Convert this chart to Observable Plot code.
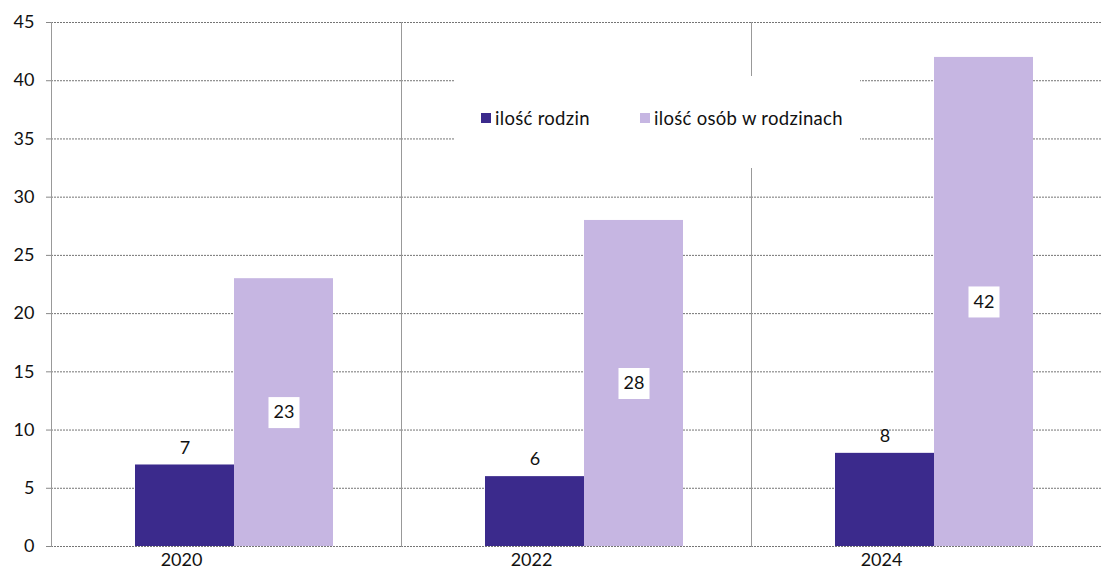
<!DOCTYPE html>
<html>
<head>
<meta charset="utf-8">
<script src="https://cdn.jsdelivr.net/npm/d3@7"></script>
<script src="https://cdn.jsdelivr.net/npm/@observablehq/plot@0.6"></script>
<style>
  html, body { margin: 0; padding: 0; background: white; }
  #wrap { position: relative; width: 1101px; height: 579px; font-family: Lato, "Open Sans", sans-serif; }
  #legend { position: absolute; left: 455px; top: 76px; width: 405px; height: 92px; background: white; }
  .item { position: absolute; top: 31px; display: flex; align-items: center; font-size: 18.5px; color: #111; white-space: nowrap; letter-spacing: 0.3px; }
  .sw { width: 10px; height: 10px; margin-right: 4px; }
</style>
</head>
<body>
<div id="wrap"></div>
<script>
const years = ["2020", "2022", "2024"];
const series = ["ilość rodzin", "ilość osób w rodzinach"];
const rodziny = [7, 6, 8];
const osoby = [23, 28, 42];
const colors = ["#3b2a8c", "#c6b6e2"];
const yTicks = [0, 5, 10, 15, 20, 25, 30, 35, 40, 45];

const rows = [];
years.forEach((yr, i) => {
  rows.push({year: yr, series: series[0], value: rodziny[i]});
  rows.push({year: yr, series: series[1], value: osoby[i]});
});
const darkRows = rows.filter(d => d.series === series[0]);
const lightRows = rows.filter(d => d.series === series[1]);

const chart = Plot.plot({
  width: 1101,
  height: 579,
  marginLeft: 50,
  marginRight: 0,
  marginTop: 22,
  marginBottom: 33,
  style: {fontFamily: "Lato, 'Open Sans', sans-serif", fontSize: "18px", color: "#111", background: "white"},
  fx: {domain: years, padding: 0, label: null, axis: null},
  x: {domain: series, paddingInner: 0, paddingOuter: 0.76, align: 0.55, axis: null},
  y: {domain: [0, 45], label: null, axis: null},
  color: {domain: series, range: colors},
  marks: [
    Plot.gridY(yTicks, {stroke: "#666", strokeOpacity: 0.9, strokeDasharray: "2,1"}),
    Plot.frame({anchor: "left", stroke: "#999", strokeDasharray: "2,1"}),
    Plot.axisY(yTicks, {tickSize: 5, tickPadding: 12, stroke: "#888", fontSize: 18, fill: "#111"}),
    Plot.axisFx({anchor: "bottom", tickSize: 0, tickPadding: 7, dx: -45, fontSize: 18, label: null, fill: "#111"}),
    Plot.barY(rows, {fx: "year", x: "series", y: "value", fill: "series"}),
    Plot.text(darkRows, {fx: "year", x: "series", y: "value", text: d => String(d.value), dy: -17, fontSize: 18, fill: "#111"}),
    Plot.dot(lightRows, {fx: "year", x: "series", y: d => d.value / 2, symbol: "square", r: 17.5, fill: "white"}),
    Plot.text(lightRows, {fx: "year", x: "series", y: d => d.value / 2, text: d => String(d.value), fontSize: 18, fill: "#111"})
  ]
});

const wrap = document.getElementById("wrap");
wrap.appendChild(chart);

const legend = document.createElement("div");
legend.id = "legend";
const lefts = [26, 185];
series.forEach((s, i) => {
  const it = document.createElement("div");
  it.className = "item";
  it.style.left = lefts[i] + "px";
  const sw = document.createElement("span");
  sw.className = "sw";
  sw.style.background = colors[i];
  const tx = document.createElement("span");
  tx.textContent = s;
  it.appendChild(sw);
  it.appendChild(tx);
  legend.appendChild(it);
});
wrap.appendChild(legend);
</script>
</body>
</html>
